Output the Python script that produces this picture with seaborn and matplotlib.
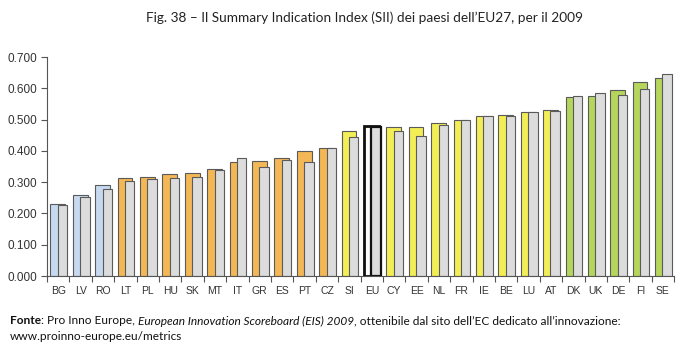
import numpy as np
import pandas as pd
import seaborn as sns
import matplotlib.pyplot as plt
from matplotlib.ticker import FormatStrFormatter, FixedLocator

countries = ["BG", "LV", "RO", "LT", "PL", "HU", "SK", "MT", "IT", "GR", "ES", "PT", "CZ",
             "SI", "EU", "CY", "EE", "NL", "FR", "IE", "BE", "LU", "AT", "DK", "UK", "DE", "FI", "SE"]
sii_main = [0.231, 0.260, 0.292, 0.313, 0.316, 0.327, 0.330, 0.341, 0.365, 0.367, 0.376, 0.399, 0.410,
            0.464, 0.479, 0.477, 0.477, 0.489, 0.500, 0.512, 0.515, 0.525, 0.532, 0.571, 0.577, 0.594, 0.619, 0.634]
sii_prev = [0.226, 0.251, 0.277, 0.303, 0.309, 0.313, 0.316, 0.338, 0.376, 0.350, 0.371, 0.364, 0.408,
            0.445, 0.475, 0.464, 0.449, 0.483, 0.498, 0.512, 0.513, 0.524, 0.529, 0.577, 0.585, 0.580, 0.599, 0.647]
groups = ["low"] * 3 + ["mod"] * 10 + ["foll"] + ["eu"] + ["foll"] * 8 + ["lead"] * 5

group_colors = {"low": "#c6d9f0", "mod": "#f4b755", "foll": "#f3ee55", "eu": "#ffffff", "lead": "#b6d55c"}
prev_color = "#dcdcdc"

sns.set_style("white")
plt.rcParams["font.family"] = ["Liberation Sans", "DejaVu Sans"]

fig = plt.figure(figsize=(6.78, 3.47), dpi=100)
ax = fig.add_axes([0.0693, 0.2046, 0.925, 0.631])

df = pd.DataFrame({"country": countries, "main": sii_main, "prev": sii_prev, "group": groups})

sns.barplot(data=df, x="country", y="main", hue="country",
            palette=[group_colors[g] for g in groups], legend=False,
            width=0.66, edgecolor="#5a5a5a", linewidth=0.8, saturation=1, ax=ax)
n_main = len(ax.patches)
for p in ax.patches:
    p.set_x(p.get_x() - 0.02)

sns.barplot(data=df, x="country", y="prev", color=prev_color,
            width=0.42, edgecolor="#5a5a5a", linewidth=0.8, saturation=1, ax=ax)
for p in ax.patches[n_main:]:
    p.set_x(p.get_x() + 0.19)

eu_i = countries.index("EU")
ax.patches[eu_i].set_edgecolor("#111111")
ax.patches[eu_i].set_linewidth(2.0)
ax.patches[n_main + eu_i].set_edgecolor("#111111")
ax.patches[n_main + eu_i].set_linewidth(1.6)

ax.set_xlim(-0.5, len(countries) - 0.5)
ax.set_ylim(0, 0.7)
ax.set_yticks(np.arange(0, 0.701, 0.1))
ax.yaxis.set_major_formatter(FormatStrFormatter("%.3f"))
ax.set_xlabel("")
ax.set_ylabel("")

ax.xaxis.set_minor_locator(FixedLocator(np.arange(-0.5, len(countries), 1.0)))
ax.tick_params(axis="x", which="major", length=0, pad=7, labelsize=7.5, labelcolor="#333333")
ax.tick_params(axis="x", which="minor", length=4, width=0.8, color="#555555", direction="out", bottom=True)
ax.tick_params(axis="y", which="major", length=4, width=0.8, color="#555555", direction="out",
               left=True, labelsize=8.5, labelcolor="#333333", pad=3)

for s in ["top", "right"]:
    ax.spines[s].set_visible(False)
for s in ["left", "bottom"]:
    ax.spines[s].set_color("#555555")
    ax.spines[s].set_linewidth(0.8)

fig.text(0.537, 0.948, "Fig. 38 \u2013 Il Summary Indication Index (SII) dei paesi dell\u2019EU27, per il 2009",
         ha="center", va="center", fontsize=9.8, family=["Lato", "DejaVu Sans"], color="#222222")

fs = 8.6
fam = ["Lato", "DejaVu Sans"]
r = fig.canvas.get_renderer()
parts = [("Fonte", dict(weight="bold")),
         (": Pro Inno Europe, ", {}),
         ("European Innovation Scoreboard (EIS) 2009", dict(style="italic")),
         (", ottenibile dal sito dell\u2019EC dedicato all\u2019innovazione:", {})]
x = 0.015
for txt, kw in parts:
    t = fig.text(x, 0.075, txt, fontsize=fs, family=fam, ha="left", va="center", color="#111111", **kw)
    fig.canvas.draw()
    x = t.get_window_extent(r).x1 / fig.bbox.width
fig.text(0.015, 0.029, "www.proinno-europe.eu/metrics", fontsize=fs, family=fam,
         ha="left", va="center", color="#111111")

fig.savefig("out.png", dpi=100)
